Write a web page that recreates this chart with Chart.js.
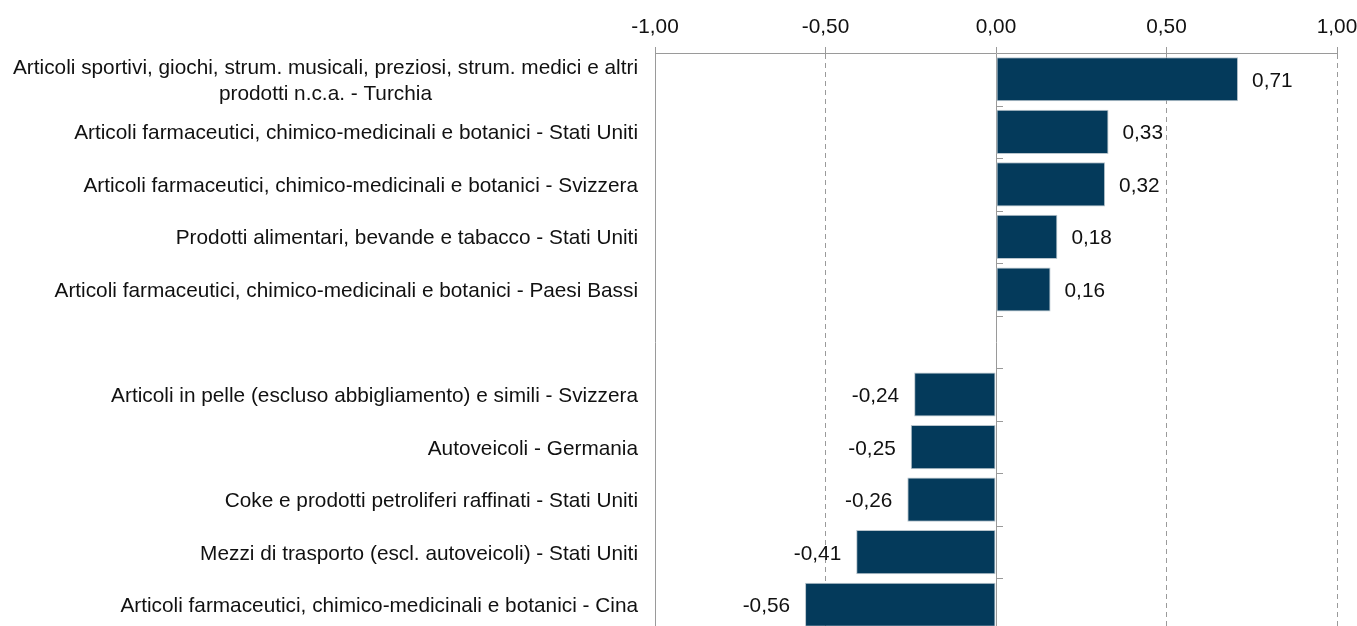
<!DOCTYPE html>
<html>
<head>
<meta charset="utf-8">
<script src="https://cdn.jsdelivr.net/npm/chart.js"></script>
<style>
  html, body { margin: 0; padding: 0; background: #fff; overflow: hidden; }
  #wrap { position: relative; width: 1357px; height: 631px; }
</style>
</head>
<body>
<div id="wrap"><canvas id="myChart"></canvas></div>
<script>
"use strict";

// categories (top to bottom), empty string = gap row
const categories = [
    ["Articoli sportivi, giochi, strum. musicali, preziosi, strum. medici e altri", "prodotti n.c.a. - Turchia"],
    "Articoli farmaceutici, chimico-medicinali e botanici - Stati Uniti",
    "Articoli farmaceutici, chimico-medicinali e botanici - Svizzera",
    "Prodotti alimentari, bevande e tabacco - Stati Uniti",
    "Articoli farmaceutici, chimico-medicinali e botanici - Paesi Bassi",
    "",
    "Articoli in pelle (escluso abbigliamento) e simili - Svizzera",
    "Autoveicoli - Germania",
    "Coke e prodotti petroliferi raffinati - Stati Uniti",
    "Mezzi di trasporto (escl. autoveicoli) - Stati Uniti",
    "Articoli farmaceutici, chimico-medicinali e botanici - Cina"
];
const values = [0.71, 0.33, 0.32, 0.18, 0.16, null, -0.24, -0.25, -0.26, -0.41, -0.56];
const xTicks = [-1, -0.5, 0, 0.5, 1];

// Liberation Sans, squeezed a touch to hit the original widths
const FONT = "21px 'Liberation Sans', Arial, sans-serif";
const SX = 0.99;
const TEXT_COLOR = "#111";
const BAR_COLOR = "#043a5b";
const GRID_COLOR = "#9a9a9a";

function fmt(v) {
    return v.toFixed(2).replace(".", ",");
}

function narrowText(ctx, text, x, y, align) {
    const w = ctx.measureText(text).width * SX;
    let left = x;
    if (align === "right") left = x - w;
    else if (align === "center") left = x - w / 2;
    ctx.save();
    ctx.translate(left, y);
    ctx.scale(SX, 1);
    ctx.textAlign = "left";
    ctx.fillText(text, 0, 0);
    ctx.restore();
}

const allText = {
    id: "allText",
    afterDraw(chart) {
        const { ctx, scales: { x, y } } = chart;
        ctx.save();
        ctx.font = FONT;
        ctx.fillStyle = TEXT_COLOR;
        ctx.textBaseline = "alphabetic";

        // x tick labels above the axis
        x.ticks.forEach((t, i) => {
            narrowText(ctx, fmt(t.value), x.getPixelForTick(i), 33, "center");
        });

        // category labels, the two-line one centred like the original
        const right = x.left - 17;
        const lineH = 26;
        categories.forEach((lab, i) => {
            const yc = y.getPixelForTick(i);
            const lines = Array.isArray(lab) ? lab : [lab];
            const widest = Math.max(...lines.map(l => ctx.measureText(l).width * SX));
            lines.forEach((l, j) => {
                const ly = yc + 7.5 + (j - (lines.length - 1) / 2) * lineH;
                if (lines.length > 1) narrowText(ctx, l, right - widest / 2, ly, "center");
                else narrowText(ctx, l, right, ly, "right");
            });
        });

        // small ticks on the zero line at category boundaries
        const x0 = x.getPixelForValue(0);
        ctx.strokeStyle = GRID_COLOR;
        ctx.lineWidth = 1;
        ctx.beginPath();
        for (let i = 1; i < categories.length; i++) {
            const yb = Math.round((y.getPixelForTick(i - 1) + y.getPixelForTick(i)) / 2) + 0.5;
            ctx.moveTo(x0, yb);
            ctx.lineTo(x0 + 7, yb);
        }
        ctx.stroke();

        // value labels
        const meta = chart.getDatasetMeta(0);
        meta.data.forEach((bar, i) => {
            const v = values[i];
            if (v === null) return;
            if (v >= 0) narrowText(ctx, fmt(v), bar.x + 14, bar.y + 7.5, "left");
            else narrowText(ctx, fmt(v), bar.x - 15, bar.y + 7.5, "right");
        });
        ctx.restore();
    }
};

new Chart(document.getElementById("myChart"), {
    type: "bar",
    data: {
        labels: categories,
        datasets: [{
            data: values,
            backgroundColor: BAR_COLOR,
            borderColor: "#b9c5cd",
            borderWidth: 1,
            borderSkipped: false,
            categoryPercentage: 1,
            barPercentage: 0.84
        }]
    },
    options: {
        indexAxis: "y",
        responsive: true,
        maintainAspectRatio: false,
        animation: false,
        layout: { padding: { top: 0, right: 20, bottom: 0, left: 0 } },
        plugins: {
            legend: { display: false },
            tooltip: { enabled: false }
        },
        scales: {
            x: {
                position: "top",
                min: -1,
                max: 1,
                afterBuildTicks(scale) {
                    scale.ticks = xTicks.map(v => ({ value: v }));
                },
                afterFit(scale) { scale.height = 53; },
                ticks: { display: false },
                grid: {
                    color: GRID_COLOR,
                    lineWidth: 1,
                    tickLength: 6,
                    tickColor: GRID_COLOR
                },
                border: {
                    display: true,
                    color: GRID_COLOR,
                    width: 1,
                    dash: ctx => (ctx.tick && (ctx.tick.value === 0 || ctx.tick.value === -1)) ? [] : [5, 4]
                }
            },
            y: {
                afterFit(scale) { scale.width = 655; },
                ticks: { display: false },
                grid: { display: false },
                border: { display: false }
            }
        }
    },
    plugins: [allText]
});
</script>
</body>
</html>
